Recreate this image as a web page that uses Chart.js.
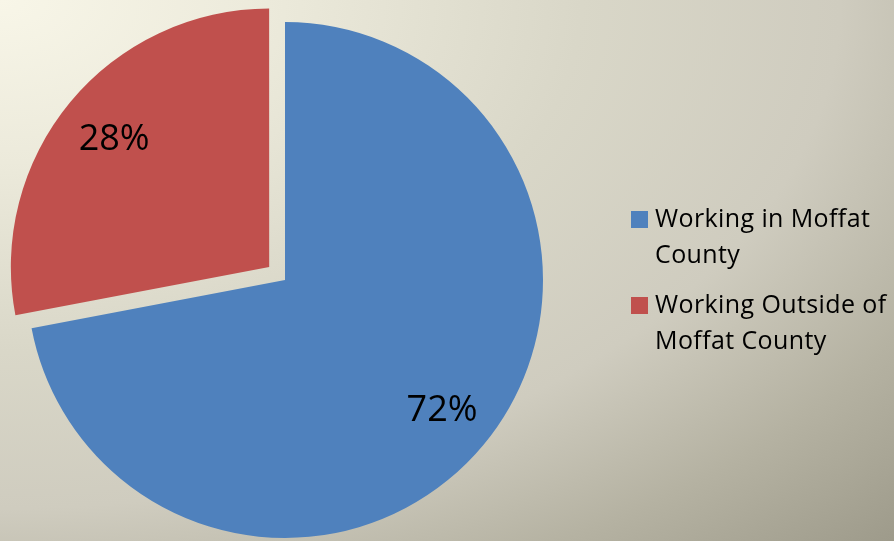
<!DOCTYPE html>
<html>
<head>
<meta charset="utf-8">
<script src="https://cdn.jsdelivr.net/npm/chart.js@4.4.1/dist/chart.umd.min.js"></script>
<style>
  html, body { margin: 0; padding: 0; }
  #wrap {
    position: relative; width: 894px; height: 541px; overflow: hidden;
    background: radial-gradient(ellipse 894px 541px at 0 0,
      #f8f6e8 0%, #eceadb 30%, #d9d7c8 65%, #cfccbf 94%, #b5b2a2 118%, #9e9b8b 141%);
    font-family: "Open Sans", "DejaVu Sans", sans-serif;
  }
  #chart { position: absolute; left: 0; top: 0; }
  .legend-item { position: absolute; left: 631px; width: 263px; }
  .legend-box { position: absolute; left: 0; width: 17px; height: 17px; }
  .legend-text { position: absolute; left: 24px; width: 239px; font-size: 25px; letter-spacing: 0.4px; line-height: 36px; color: #000; }
</style>
</head>
<body>
<div id="wrap">
  <canvas id="chart" width="894" height="541"></canvas>
  <div id="legend"></div>
</div>
<script>
const categories = ["Working in Moffat County", "Working Outside of Moffat County"];
const values = [72, 28];
const colors = ["#4f81bd", "#c0504d"];
const offsets = [0, 82];

const total = values.reduce((a, b) => a + b, 0);
const pctLabels = values.map(v => Math.round(v / total * 100) + "%");

const pctLabelPlugin = {
  id: "pctLabels",
  afterDatasetsDraw(chart) {
    const ctx = chart.ctx;
    const meta = chart.getDatasetMeta(0);
    ctx.save();
    ctx.font = '36px "Open Sans", "DejaVu Sans", sans-serif';
    ctx.fillStyle = "#000";
    ctx.textAlign = "center";
    ctx.textBaseline = "middle";
    meta.data.forEach((arc, i) => {
      const p = arc.getProps(["x", "y", "startAngle", "endAngle", "outerRadius"], true);
      const mid = (p.startAngle + p.endAngle) / 2;
      const off = (arc.options.offset || 0) / 4;
      const r = p.outerRadius * 0.785 + off;
      ctx.fillText(pctLabels[i], p.x + Math.cos(mid) * r + 1, p.y + Math.sin(mid) * r + 2);
    });
    ctx.restore();
  }
};

new Chart(document.getElementById("chart"), {
  type: "pie",
  data: {
    labels: categories,
    datasets: [{
      data: values,
      backgroundColor: colors,
      borderWidth: 0,
      offset: offsets,
      radius: 258,
      clip: false
    }]
  },
  options: {
    responsive: false,
    devicePixelRatio: 1,
    animation: false,
    events: [],
    layout: { padding: { left: 0, right: 324, top: 19, bottom: 0 } },
    plugins: { legend: { display: false }, tooltip: { enabled: false } }
  },
  plugins: [pctLabelPlugin]
});

// HTML legend built from the data arrays
const legend = document.getElementById("legend");
const legendTops = [199, 285];
categories.forEach((c, i) => {
  const item = document.createElement("div");
  item.className = "legend-item";
  item.style.top = legendTops[i] + "px";
  const box = document.createElement("div");
  box.className = "legend-box";
  box.style.background = colors[i];
  box.style.top = "12px";
  const txt = document.createElement("div");
  txt.className = "legend-text";
  txt.textContent = c;
  item.appendChild(box);
  item.appendChild(txt);
  legend.appendChild(item);
});
</script>
</body>
</html>
